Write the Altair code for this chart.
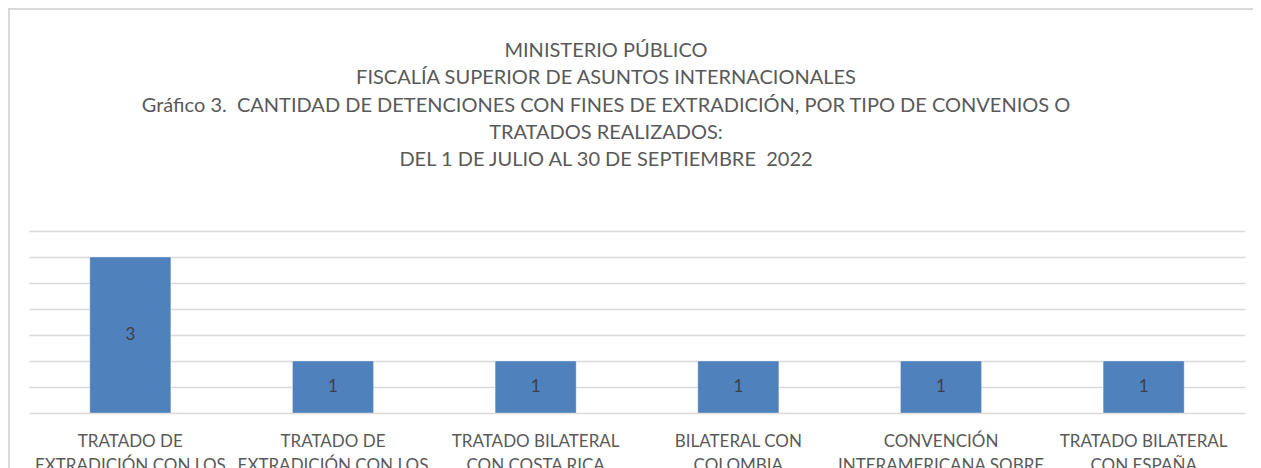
import altair as alt
import pandas as pd

categories = [
    "TRATADO DE|EXTRADICIÓN CON LOS|ESTADOS UNIDOS DE|AMÉRICA",
    "TRATADO DE|EXTRADICIÓN CON LOS|ESTADOS UNIDOS|MEXICANOS",
    "TRATADO BILATERAL|CON COSTA RICA",
    "BILATERAL CON|COLOMBIA",
    "CONVENCIÓN|INTERAMERICANA SOBRE|EXTRADICIÓN",
    "TRATADO BILATERAL|CON ESPAÑA",
]
values = [3, 1, 1, 1, 1, 1]
grid_values = [0, 0.5, 1, 1.5, 2, 2.5, 3, 3.5]
title_lines = [
    "MINISTERIO PÚBLICO",
    "FISCALÍA SUPERIOR DE ASUNTOS INTERNACIONALES",
    "Gráfico 3. \u00a0CANTIDAD DE DETENCIONES CON FINES DE EXTRADICIÓN, POR TIPO DE CONVENIOS O",
    "TRATADOS REALIZADOS:",
    "DEL 1 DE JULIO AL 30 DE SEPTIEMBRE \u00a02022",
]

df = pd.DataFrame({"cat": categories, "val": values})
title_df = pd.DataFrame({"t": ["\n".join(title_lines)]})

FONT = "Lato"
W, H = 1216, 182

x_axis = alt.Axis(
    title=None,
    labelAngle=0,
    labelExpr="split(datum.label, '|')",
    labelFont=FONT,
    labelFontSize=17,
    labelColor="#595959",
    labelLineHeight=24,
    labelPadding=20,
    ticks=False,
    tickSize=0,
    domain=False,
    grid=False,
    labelLimit=300,
)
y_axis = alt.Axis(
    title=None,
    labels=False,
    ticks=False,
    domain=False,
    values=grid_values,
    grid=True,
    gridColor="#d9d9d9",
    gridWidth=1.4,
)

x_scale = alt.Scale(paddingInner=0.6, paddingOuter=0.3)
y_scale = alt.Scale(domain=[0, 3.5], nice=False)

bars = alt.Chart(df).mark_bar(
    color="#4F81BD", stroke="#ffffff", strokeOpacity=0.35, strokeWidth=1
).encode(
    x=alt.X("cat:N", sort=categories, scale=x_scale, axis=x_axis),
    y=alt.Y("val:Q", scale=y_scale, axis=y_axis),
)

labels = alt.Chart(df).transform_calculate(mid="datum.val / 2").mark_text(
    font=FONT, fontSize=17, color="#404040", baseline="middle", align="center"
).encode(
    x=alt.X("cat:N", sort=categories, scale=x_scale, axis=x_axis),
    y=alt.Y("mid:Q", scale=y_scale, axis=y_axis),
    text=alt.Text("val:Q"),
)

title = alt.Chart(title_df).mark_text(
    font=FONT, fontSize=20, color="#595959", align="center",
    baseline="alphabetic", lineBreak="\n", lineHeight=27.3,
).encode(
    x=alt.value(W / 2 - 31),
    y=alt.value(-174),
    text="t:N",
)

border_top = alt.Chart(df).mark_rule(color="#d9d9d9", strokeWidth=1.5).encode(
    x=alt.value(-21), x2=alt.value(W + 8), y=alt.value(-222)
)
border_left = alt.Chart(df).mark_rule(color="#d9d9d9", strokeWidth=1.5).encode(
    x=alt.value(-20), y=alt.value(-223), y2=alt.value(H + 60)
)

chart = alt.layer(border_top, border_left, title, bars, labels).properties(
    width=W,
    height=H,
    autosize=alt.AutoSizeParams(type="none"),
    padding={"left": 21, "top": 223, "right": 8, "bottom": 55},
).configure(background="white").configure_view(stroke=None)

chart.save("out.html", embed_options={"renderer": "svg", "actions": False})
